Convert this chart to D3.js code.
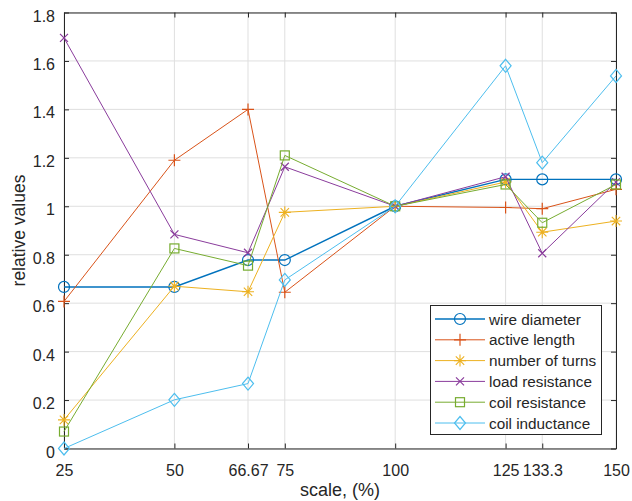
<!DOCTYPE html>
<html><head><meta charset="utf-8">
<script src="https://cdn.jsdelivr.net/npm/d3@7"></script>
<style>body{margin:0;background:#fff}svg{display:block}text{font-family:"Liberation Sans",Arial,sans-serif;fill:#262626}</style>
</head><body>
<svg id="c" width="632" height="501"></svg>
<script>
const scales = [25, 50, 66.67, 75, 100, 125, 133.3, 150];
const xTickLabels = ["25", "50", "66.67", "75", "100", "125", "133.3", "150"];
const yTicks = [0, 0.2, 0.4, 0.6, 0.8, 1, 1.2, 1.4, 1.6, 1.8];
const seriesNames = ["wire diameter", "active length", "number of turns", "load resistance", "coil resistance", "coil inductance"];
const wireDiameter   = [0.667, 0.667, 0.778, 0.778, 1, 1.111, 1.111, 1.111];
const activeLength   = [0.607, 1.19, 1.40, 0.645, 1, 0.995, 0.99, 1.07];
const numberOfTurns  = [0.118, 0.67, 0.647, 0.975, 1, 1.10, 0.893, 0.939];
const loadResistance = [1.695, 0.884, 0.808, 1.163, 1, 1.122, 0.806, 1.10];
const coilResistance = [0.07, 0.826, 0.755, 1.21, 1, 1.09, 0.932, 1.09];
const coilInductance = [0.0, 0.201, 0.268, 0.696, 1, 1.58, 1.18, 1.538];
const colors = ["#0072BD", "#D95319", "#EDB120", "#8A3C9C", "#77AC30", "#4DBEEE"];
const markers = ["circle", "plus", "star", "cross", "square", "diamond"];
const allSeries = [wireDiameter, activeLength, numberOfTurns, loadResistance, coilResistance, coilInductance];

const svg = d3.select("#c");
const L = 64, R = 616, T = 12.5, B = 448.5;
const x = d3.scaleLinear().domain([25, 150]).range([L, R]);
const y = d3.scaleLinear().domain([0, 1.8]).range([B, T]);

// grid
const g = svg.append("g");
scales.forEach(v => g.append("line").attr("x1", x(v)).attr("x2", x(v)).attr("y1", T).attr("y2", B)
  .attr("stroke", "#dfdfdf").attr("stroke-width", 1));
yTicks.forEach(v => g.append("line").attr("x1", L).attr("x2", R).attr("y1", y(v)).attr("y2", y(v))
  .attr("stroke", "#dfdfdf").attr("stroke-width", 1));

// axes
const ax = d3.axisBottom(x).tickValues(scales).tickFormat((d, i) => xTickLabels[i]).tickSizeInner(-5).tickSizeOuter(0).tickPadding(0);
const ay = d3.axisLeft(y).tickValues(yTicks).tickFormat(d => d3.format("")(+d.toFixed(1))).tickSizeInner(-5).tickSizeOuter(0).tickPadding(0);
const axT = d3.axisTop(x).tickValues(scales).tickFormat("").tickSizeInner(-5).tickSizeOuter(0);
const ayR = d3.axisRight(y).tickValues(yTicks).tickFormat("").tickSizeInner(-5).tickSizeOuter(0);
function styleAxis(sel) {
  sel.select(".domain").attr("stroke", "#262626");
  sel.selectAll(".tick line").attr("stroke", "#262626");
  sel.selectAll(".tick text").attr("fill", "#404040").style("font-size", "16px").style("font-family", "'Liberation Sans', Arial, sans-serif");
}
const gx = svg.append("g").attr("transform", `translate(0,${B})`).call(ax).call(styleAxis);
gx.selectAll(".tick text").attr("y", 27).attr("dy", 0);
const gy = svg.append("g").attr("transform", `translate(${L},0)`).call(ay).call(styleAxis);
gy.selectAll(".tick text").attr("x", -9).attr("dy", 0).attr("y", 8.5);
svg.append("g").attr("transform", `translate(0,${T})`).call(axT).call(styleAxis);
svg.append("g").attr("transform", `translate(${R},0)`).call(ayR).call(styleAxis);

function drawMarker(sel, type, cx, cy, color) {
  if (type === "circle") sel.append("circle").attr("cx", cx).attr("cy", cy).attr("r", 5.5).attr("fill", "none").attr("stroke", color).attr("stroke-width", 1.2);
  else if (type === "square") sel.append("rect").attr("x", cx - 4.5).attr("y", cy - 4.5).attr("width", 9).attr("height", 9).attr("fill", "none").attr("stroke", color).attr("stroke-width", 1.2);
  else if (type === "diamond") sel.append("path").attr("d", `M${cx},${cy-6.5}L${cx+5.5},${cy}L${cx},${cy+6.5}L${cx-5.5},${cy}Z`).attr("fill", "none").attr("stroke", color).attr("stroke-width", 1.2);
  else if (type === "plus") sel.append("path").attr("d", `M${cx-6},${cy}H${cx+6}M${cx},${cy-6}V${cy+6}`).attr("stroke", color).attr("stroke-width", 1.2);
  else if (type === "cross") sel.append("path").attr("d", `M${cx-4},${cy-4}L${cx+4},${cy+4}M${cx-4},${cy+4}L${cx+4},${cy-4}`).attr("stroke", color).attr("stroke-width", 1.2);
  else if (type === "star") sel.append("path").attr("d", `M${cx-6},${cy}H${cx+6}M${cx},${cy-6}V${cy+6}M${cx-4.2},${cy-4.2}L${cx+4.2},${cy+4.2}M${cx-4.2},${cy+4.2}L${cx+4.2},${cy-4.2}`).attr("stroke", color).attr("stroke-width", 1.1);
}

const line = d3.line().x((d, i) => x(scales[i])).y(d => y(d));
allSeries.forEach((vals, k) => {
  const gs = svg.append("g");
  gs.append("path").datum(vals).attr("d", line).attr("fill", "none").attr("stroke", colors[k]).attr("stroke-width", k === 0 ? 1.4 : 1);
  vals.forEach((v, i) => drawMarker(gs, markers[k], x(scales[i]), y(v), colors[k]));
});

// legend
const lg = svg.append("g");
lg.append("rect").attr("x", 430.5).attr("y", 305.5).attr("width", 171).attr("height", 129).attr("fill", "#fff").attr("stroke", "#262626").attr("stroke-width", 1);
seriesNames.forEach((n, k) => {
  const yy = 319 + k * 20.8;
  lg.append("line").attr("x1", 435).attr("x2", 485).attr("y1", yy).attr("y2", yy).attr("stroke", colors[k]).attr("stroke-width", k === 0 ? 1.4 : 1);
  drawMarker(lg, markers[k], 460, yy, colors[k]);
  lg.append("text").attr("x", 489).attr("y", yy + 5.5).style("font-size", "15.3px").text(n);
});

// axis labels
svg.append("text").attr("x", (L + R) / 2).attr("y", 496).attr("text-anchor", "middle").style("font-size", "18px").text("scale, (%)");
svg.append("text").attr("transform", `translate(25,${(T + B) / 2}) rotate(-90)`).attr("text-anchor", "middle").style("font-size", "17.5px").text("relative values");
</script>
</body></html>
